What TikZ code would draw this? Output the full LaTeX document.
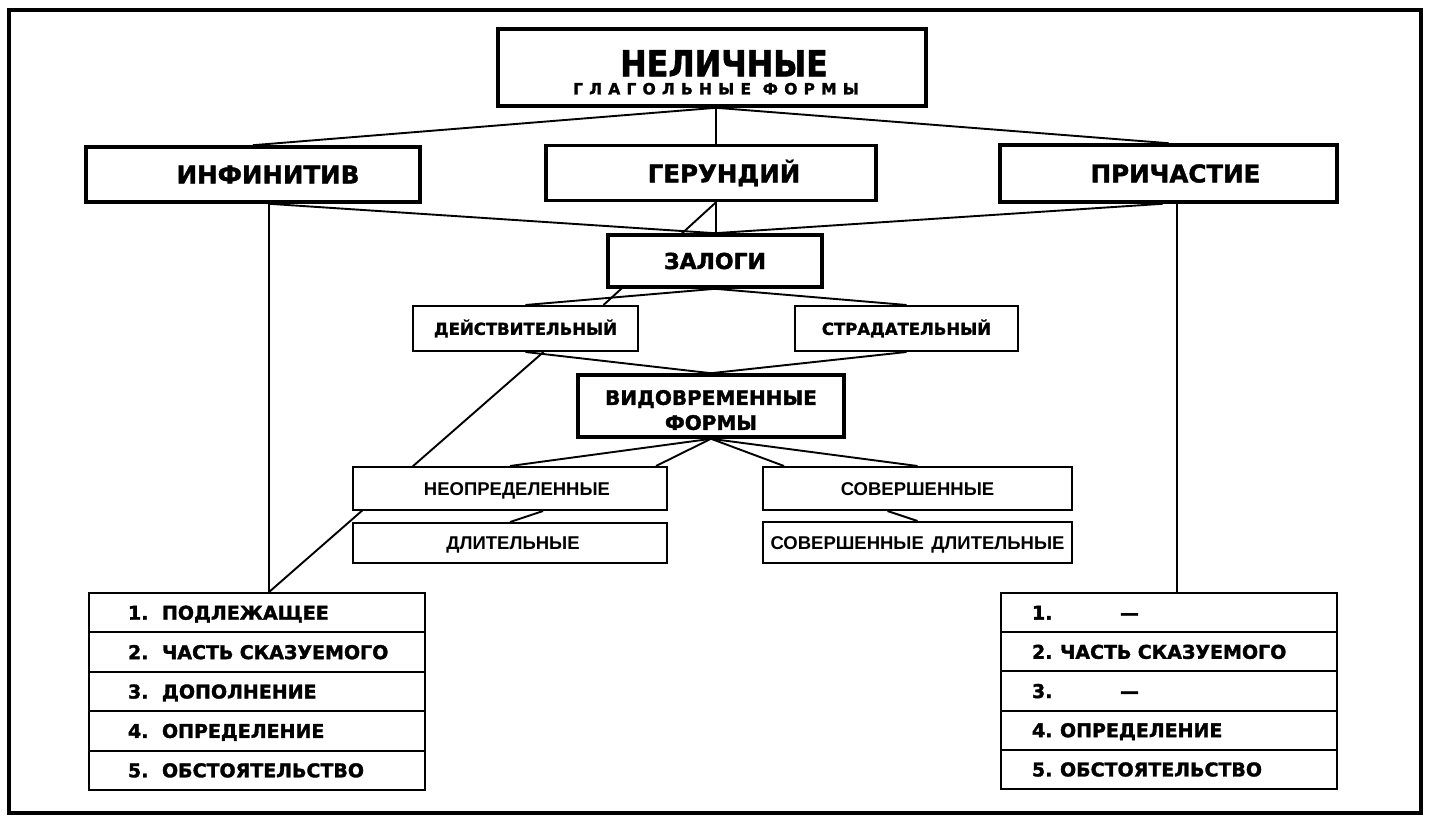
\documentclass[tikz,border=0pt]{standalone}
\usepackage{fontspec}
\usepackage{graphicx}
\setmainfont{DejaVu Sans}[BoldFeatures={FakeBold=1.6}]
\newfontfamily\libsans{Liberation Sans}
\usetikzlibrary{backgrounds,calc}
\tikzset{
  thickbox/.style={draw, line width=3.6pt, fill=white, inner sep=0pt, align=center},
  thinbox/.style={draw, line width=2pt, fill=white, inner sep=0pt, align=center},
  conn/.style={line width=1.9pt},
  heavyfont/.style={font=\bfseries\fontsize{#1}{#1}\selectfont},
  medfont/.style={font=\libsans\bfseries\fontsize{#1}{#1}\selectfont, text height=13.2pt, text depth=0pt},
  rowL/.style={draw, line width=1.9pt, fill=white, minimum height=39.4pt,
    inner xsep=39pt, inner ysep=0pt, text width=258pt, align=left,
    text height=14pt, text depth=0pt, font=\bfseries\fontsize{19}{19}\selectfont},
  rowR/.style={draw, line width=1.9pt, fill=white, minimum height=39.2pt,
    inner xsep=31pt, inner ysep=0pt, text width=274pt, align=left,
    text height=14pt, text depth=0pt, font=\bfseries\fontsize{19}{19}\selectfont}
}
\begin{document}
\begin{tikzpicture}[x=1pt,y=-1pt]
\useasboundingbox (0,0) rectangle (1430,821);
\draw[line width=3.6pt] (9,10) rectangle (1421,813);

% top
\node[thickbox, font=\bfseries\fontsize{15.5}{16}\selectfont, minimum width=428pt, minimum height=77pt] (top) at (712,67.5)
  {\rule{0pt}{36pt}\hspace*{24pt}{\fontsize{36}{36}\selectfont\scalebox{0.88}[1]{НЕЛИЧНЫЕ}}\\[2pt]
   \hspace*{8pt}{\addfontfeature{LetterSpace=40}ГЛАГОЛЬНЫЕ ФОРМЫ}};

\node[thickbox, heavyfont=24.5, minimum width=334pt, minimum height=55pt] (inf) at (253,174.5) {\hspace*{30pt}ИНФИНИТИВ};
\node[thickbox, heavyfont=24.5, minimum width=330pt, minimum height=55pt] (ger) at (711,173) {\hspace*{26pt}ГЕРУНДИЙ};
\node[thickbox, heavyfont=24.5, minimum width=337pt, minimum height=57pt] (pri) at (1168.5,173.5) {\hspace*{14pt}ПРИЧАСТИЕ};

\node[thickbox, heavyfont=22, minimum width=214pt, minimum height=52pt] (zal) at (715,261) {ЗАЛОГИ};

\node[thinbox, heavyfont=16.5, minimum width=225pt, minimum height=45pt] (dei) at (525.5,328.5) {ДЕЙСТВИТЕЛЬНЫЙ};
\node[thinbox, heavyfont=16.5, minimum width=223pt, minimum height=45pt] (str) at (906.5,328.5) {СТРАДАТЕЛЬНЫЙ};

\node[thickbox, font=\bfseries\fontsize{20}{25}\selectfont, minimum width=266pt, minimum height=62pt] (vid) at (711,406) {\rule{0pt}{23pt}ВИДОВРЕМЕННЫЕ\\ФОРМЫ};

\node[thinbox, medfont=18.5, minimum width=314pt, minimum height=43pt] (neo) at (510,488.5) {\hspace*{14pt}НЕОПРЕДЕЛЕННЫЕ};
\node[thinbox, medfont=18.5, minimum width=314pt, minimum height=40pt] (dli) at (510,543) {\hspace*{6pt}ДЛИТЕЛЬНЫЕ};
\node[thinbox, medfont=18.5, minimum width=309pt, minimum height=43pt] (sov) at (917.5,488.5) {СОВЕРШЕННЫЕ};
\node[thinbox, medfont=18.5, minimum width=309pt, minimum height=41pt] (sdl) at (917.5,542.5) {СОВЕРШЕННЫЕ\hspace{0.4em}ДЛИТЕЛЬНЫЕ};

% left table
\node[rowL] (l1) at (257,612.7) {\mbox{\makebox[34pt][l]{1.}ПОДЛЕЖАЩЕЕ}};
\node[rowL] (l2) at (257,652.1) {\mbox{\makebox[34pt][l]{2.}ЧАСТЬ СКАЗУЕМОГО}};
\node[rowL] (l3) at (257,691.5) {\mbox{\makebox[34pt][l]{3.}ДОПОЛНЕНИЕ}};
\node[rowL] (l4) at (257,730.9) {\mbox{\makebox[34pt][l]{4.}ОПРЕДЕЛЕНИЕ}};
\node[rowL] (l5) at (257,770.3) {\mbox{\makebox[34pt][l]{5.}ОБСТОЯТЕЛЬСТВО}};

% right table
\node[rowR] (r1) at (1169,612.6) {\mbox{\makebox[28pt][l]{1.}\hspace{60pt}—}};
\node[rowR] (r2) at (1169,651.8) {\mbox{\makebox[28pt][l]{2.}ЧАСТЬ СКАЗУЕМОГО}};
\node[rowR] (r3) at (1169,691.0) {\mbox{\makebox[28pt][l]{3.}\hspace{60pt}—}};
\node[rowR] (r4) at (1169,730.2) {\mbox{\makebox[28pt][l]{4.}ОПРЕДЕЛЕНИЕ}};
\node[rowR] (r5) at (1169,769.4) {\mbox{\makebox[28pt][l]{5.}ОБСТОЯТЕЛЬСТВО}};

\begin{scope}[on background layer]
\coordinate (infb) at ([xshift=16pt]inf.south);
\coordinate (prib) at ([xshift=8.5pt]pri.south);
\coordinate (topb) at ([xshift=4pt]top.south);
\draw[conn] (topb) -- (inf.north);
\draw[conn] (topb) -- ([xshift=5pt]ger.north);
\draw[conn] (topb) -- (pri.north);
\draw[conn] ([xshift=5pt]ger.south) -- ([xshift=1pt]zal.north);
\draw[conn] ([xshift=5pt]ger.south) -- ([xshift=78pt]dei.north);
\draw[conn] (infb) -- (zal.north);
\draw[conn] ([xshift=-6pt]pri.south) -- (zal.north);
\draw[conn] (infb) -- (infb |- l1.north);
\draw[conn] (prib) -- (prib |- r1.north);
\draw[conn] (zal.south) -- (dei.north);
\draw[conn] (zal.south) -- (str.north);
\draw[conn] (dei.south) -- (vid.north);
\draw[conn] (str.south) -- (vid.north);
\draw[conn] ([xshift=18pt]dei.south) -- (infb |- l1.north);
\draw[conn] (vid.south) -- (neo.north);
\draw[conn] (vid.south) -- ([xshift=-12pt]neo.north east);
\draw[conn] (vid.south) -- ([xshift=22pt]sov.north west);
\draw[conn] (vid.south) -- (sov.north);
\draw[conn] ([xshift=33pt]neo.south) -- (dli.north);
\draw[conn] ([xshift=-30pt]sov.south) -- (sdl.north);
\end{scope}
\end{tikzpicture}
\end{document}
